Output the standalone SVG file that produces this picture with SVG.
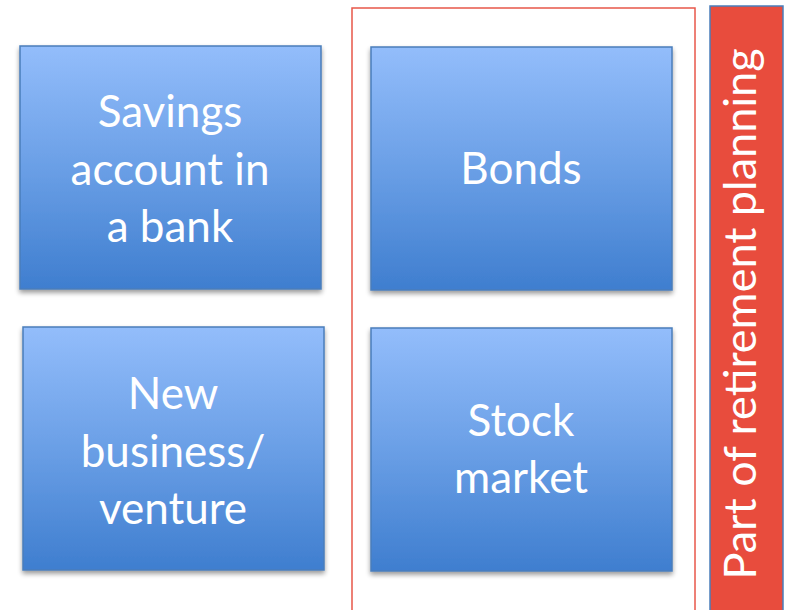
<svg xmlns="http://www.w3.org/2000/svg" width="786" height="610" viewBox="0 0 786 610">
<defs>
<linearGradient id="g" x1="0" y1="0" x2="0" y2="1">
<stop offset="0" stop-color="#93bdfb"/>
<stop offset="0.5" stop-color="#6a9fe6"/>
<stop offset="1" stop-color="#3f7ecf"/>
</linearGradient>
<filter id="sh" x="-10%" y="-10%" width="120%" height="125%">
<feGaussianBlur in="SourceAlpha" stdDeviation="2.5"/>
<feOffset dx="0" dy="3" result="b"/>
<feComponentTransfer><feFuncA type="linear" slope="0.4"/></feComponentTransfer>
<feMerge><feMergeNode/><feMergeNode in="SourceGraphic"/></feMerge>
</filter>
</defs>
<style>
.box{fill:url(#g);stroke:#4a7ebb;stroke-width:1.5;filter:url(#sh)}
.t{font-family:Lato,"Open Sans",sans-serif;font-size:44px;fill:#ffffff;text-anchor:middle}
</style>
<rect width="786" height="610" fill="#ffffff"/>
<g id="frame">
<rect x="352" y="8" width="343" height="620" fill="none" stroke="#e8574a" stroke-width="1.5"/>
</g>
<g id="savings">
<rect class="box" x="20" y="46" width="301" height="243"/>
<text class="t" x="170" y="127">Savings</text>
<text class="t" x="170" y="185">account in</text>
<text class="t" x="170" y="242">a bank</text>
</g>
<g id="bonds">
<rect class="box" x="371" y="47" width="301" height="243"/>
<text class="t" x="521" y="184">Bonds</text>
</g>
<g id="venture">
<rect class="box" x="23" y="327" width="301" height="243"/>
<text class="t" x="173" y="409">New</text>
<text class="t" x="173" y="467">business/</text>
<text class="t" x="173" y="524">venture</text>
</g>
<g id="stock">
<rect class="box" x="371" y="328" width="301" height="243"/>
<text class="t" x="521" y="436">Stock</text>
<text class="t" x="521" y="493">market</text>
</g>
<g id="retirement">
<rect x="710" y="6" width="73" height="620" fill="#e84c3d" stroke="#4a7ebb" stroke-width="1.5"/>
<text class="t" style="font-size:45px" transform="translate(756,314) rotate(-90)" x="0" y="0">Part of retirement planning</text>
</g>
<g id="connectors"/>
</svg>
